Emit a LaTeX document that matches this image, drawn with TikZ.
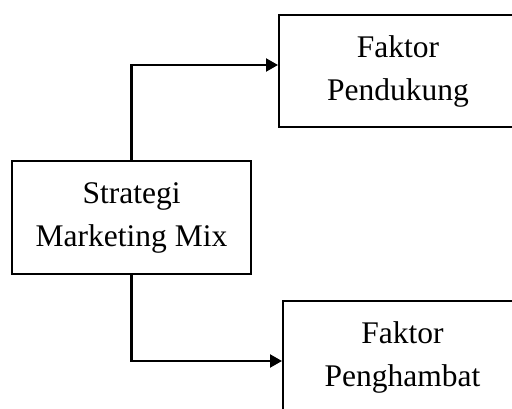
\documentclass[tikz,border=0pt]{standalone}
\usepackage{fontspec}
\setmainfont{Liberation Serif}
\usetikzlibrary{arrows.meta}
\begin{document}
\begin{tikzpicture}[x=1pt,y=-1pt,
  box/.style={draw,line width=2pt,rectangle,align=center,inner sep=0pt,
    font=\fontsize{31.5}{43}\selectfont},
  conn/.style={line width=2.2pt,-{Triangle[length=12pt,width=13pt]}}]
\useasboundingbox (0,0) rectangle (512,408);
\clip (0,0) rectangle (512,408);
\node[box,minimum width=239pt,minimum height=113pt] (L) at (131.5,217.5) {Strategi\\Marketing Mix};
\node[box,minimum width=238pt,minimum height=112pt] (T) at (398,71) {Faktor\\Pendukung};
\node[box,minimum width=239pt,minimum height=112pt] (B) at (402.5,357) {Faktor\\Penghambat};
\draw[conn] (L.north) |- ([yshift=6pt]T.west);
\draw[conn] (L.south) |- ([yshift=-4pt]B.west);
\end{tikzpicture}
\end{document}
